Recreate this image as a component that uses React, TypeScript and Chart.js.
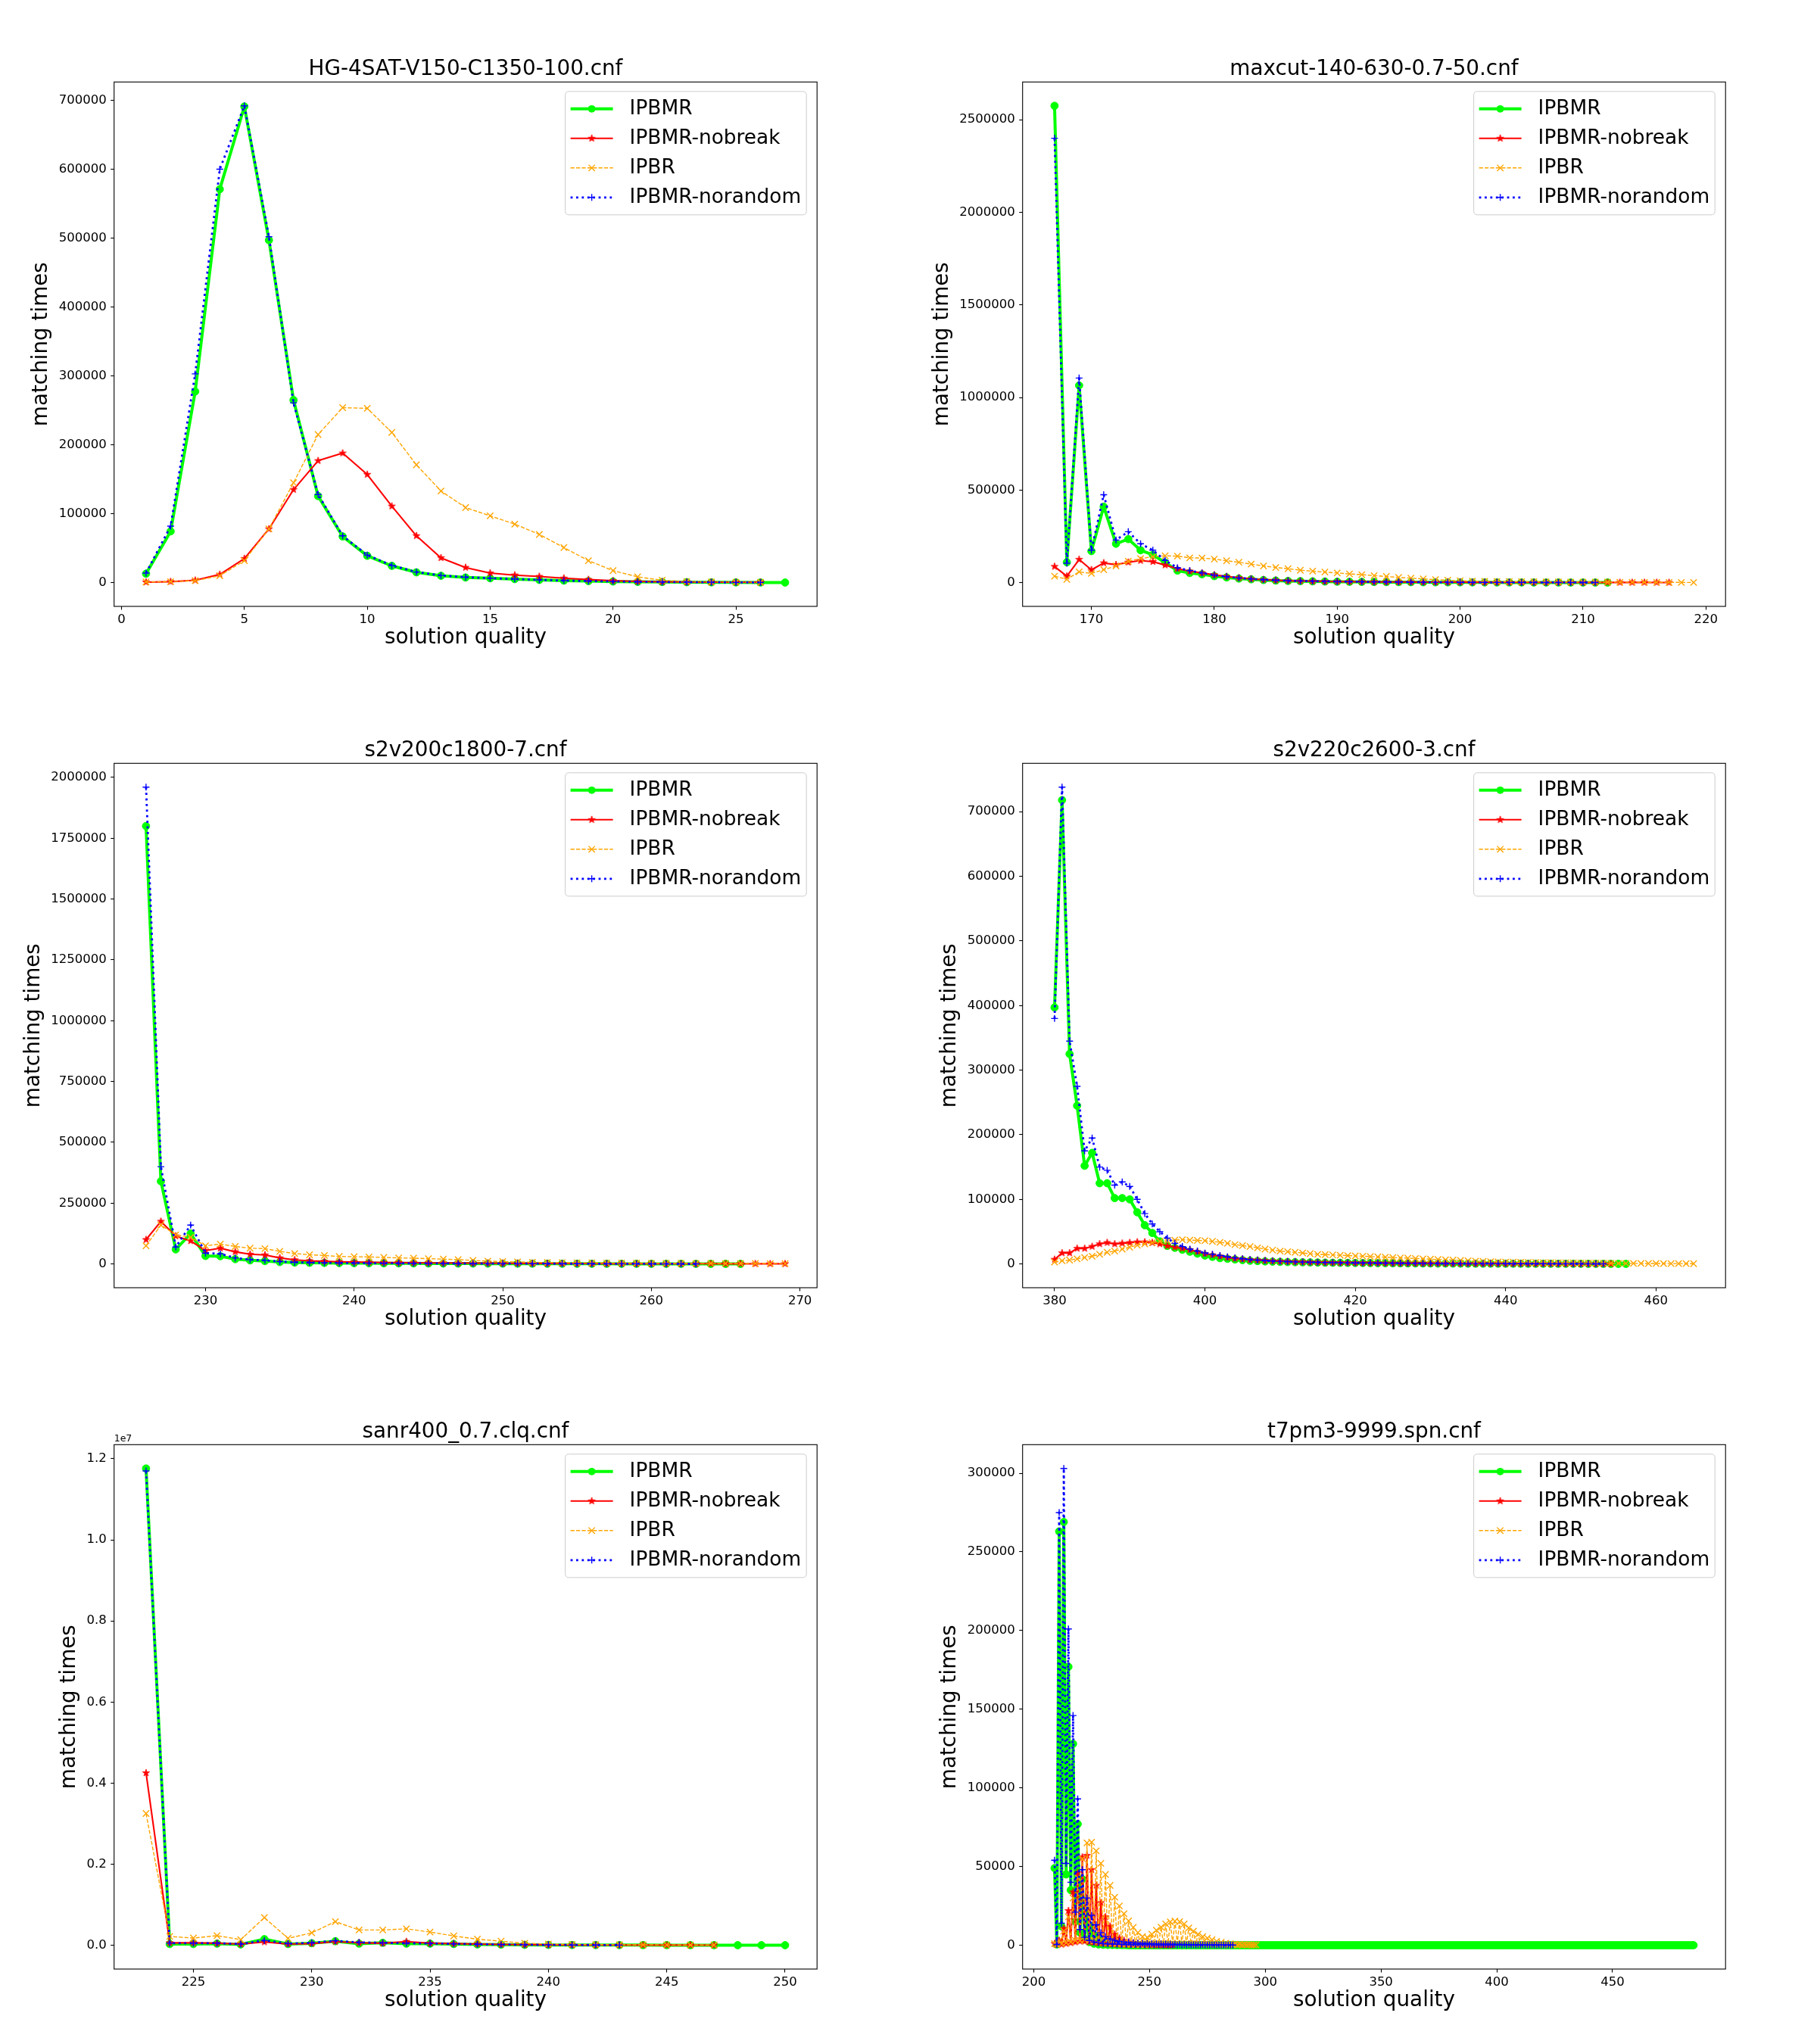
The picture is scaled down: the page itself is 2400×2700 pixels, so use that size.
import React, { useEffect, useRef } from 'react';
import { Chart, registerables } from 'chart.js';

Chart.register(...registerables);

const FONT = "'DejaVu Sans', 'Liberation Sans', sans-serif";
Chart.defaults.font.family = FONT;

const SERIES_LABELS = ['IPBMR', 'IPBMR-nobreak', 'IPBR', 'IPBMR-norandom'];
const X_LABEL = 'solution quality';
const Y_LABEL = 'matching times';

// ---------- HG-4SAT-V150-C1350-100.cnf ----------
const hgTitle = 'HG-4SAT-V150-C1350-100.cnf';
const hgStart = [1, 1, 1, 1];
const hgIPBMR = [13000, 74500, 277500, 571000, 691000, 497000, 265000, 125700, 67000, 39000, 24400, 15000, 10000, 7500, 6400, 5200, 4000, 3000, 2300, 1700, 1200, 1000, 700, 500, 400, 300, 200];
const hgNobreak = [800, 1500, 3500, 12000, 35000, 78000, 135000, 177000, 188000, 157000, 111000, 68000, 36000, 22000, 14000, 11000, 9000, 6500, 4500, 2800, 1800, 1300, 1000, 800, 700, 600];
const hgIPBR = [1000, 1500, 3000, 10000, 32000, 78000, 145000, 215000, 254000, 253000, 218000, 171000, 133000, 109000, 97000, 85000, 70000, 51000, 32000, 17500, 8500, 3500, 1500, 1000, 700, 500];
const hgNorandom = [14000, 82000, 303000, 600000, 692000, 502000, 261000, 128000, 68000, 40000, 25000, 15500, 10500, 8000, 6500, 5300, 4100, 3100, 2400, 1800, 1300, 1000, 800, 600, 400, 300];
const hgXTicks = [0, 5, 10, 15, 20, 25];
const hgYTicks = [0, 100000, 200000, 300000, 400000, 500000, 600000, 700000];

// ---------- maxcut-140-630-0.7-50.cnf ----------
const mcTitle = 'maxcut-140-630-0.7-50.cnf';
const mcStart = [167, 167, 167, 167];
const mcIPBMR = [2575000, 110000, 1065000, 170000, 410000, 210000, 235000, 175000, 150000, 108000,
  65000, 52000, 45000, 35000, 28000, 22000, 18000, 14000, 11000, 9000,
  8000, 7000, 6000, 5000, 4500, 4000, 3500, 3000, 2700, 2400,
  2100, 1900, 1700, 1500, 1300, 1200, 1000, 900, 800, 700,
  650, 600, 550, 500, 450, 400];
const mcNobreak = [87000, 35000, 125000, 69000, 106000, 97000, 110000, 119000, 113000, 95000,
  75000, 62000, 52000, 42000, 33000, 26000, 20000, 16000, 13000, 10000,
  8500, 7500, 6500, 5800, 5200, 4700, 4200, 3800, 3400, 3100,
  2800, 2600, 2400, 2200, 2000, 1900, 1800, 1700, 1600, 1500,
  1400, 1300, 1200, 1100, 1000, 950, 900, 850, 800, 750, 700];
const mcIPBR = [35000, 18000, 58000, 50000, 70000, 90000, 115000, 130000, 140000, 145000,
  143000, 134000, 133000, 127000, 118000, 110000, 100000, 90000, 82000, 75000,
  67000, 62000, 57000, 52000, 47000, 43000, 38000, 33000, 28000, 24000,
  20000, 16000, 13000, 10000, 8000, 7000, 6000, 5500, 5000, 4500,
  4000, 3600, 3300, 3000, 2700, 2400, 2100, 1900, 1700, 1500,
  1300, 1200, 1000];
const mcNorandom = [2400000, 105000, 1105000, 175000, 475000, 230000, 275000, 210000, 175000, 120000,
  80000, 65000, 52000, 40000, 32000, 25000, 20000, 16000, 13000, 10500,
  9000, 8000, 7000, 6000, 5200, 4600, 4000, 3500, 3100, 2700,
  2400, 2100, 1900, 1700, 1500, 1300, 1150, 1000, 900, 800,
  700, 650, 600, 550, 500];
const mcXTicks = [170, 180, 190, 200, 210, 220];
const mcYTicks = [0, 500000, 1000000, 1500000, 2000000, 2500000];

// ---------- s2v200c1800-7.cnf ----------
const s2aTitle = 's2v200c1800-7.cnf';
const s2aStart = [226, 226, 226, 226];
const s2aIPBMR = [1800000, 340000, 60000, 125000, 33000, 32000, 20000, 15000, 12000, 8000,
  6000, 5000, 4500, 4000, 3600, 3300, 3000, 2700, 2500, 2300,
  2100, 1900, 1800, 1700, 1600, 1500, 1400, 1300, 1200, 1100,
  1000, 950, 900, 850, 800, 750, 700, 650, 600, 550, 500];
const s2aNobreak = [100000, 175000, 115000, 95000, 55000, 65000, 50000, 40000, 37000, 25000,
  17000, 13000, 11000, 9000, 8000, 7000, 6000, 5500, 5000, 4600,
  4200, 3900, 3600, 3300, 3000, 2800, 2600, 2400, 2200, 2000,
  1900, 1800, 1700, 1600, 1500, 1400, 1300, 1200, 1100, 1000,
  950, 900, 850, 800];
const s2aIPBR = [75000, 160000, 120000, 110000, 75000, 82000, 72000, 65000, 63000, 52000,
  43000, 38000, 35000, 31000, 30000, 29000, 27000, 25000, 24000, 22000,
  20000, 18000, 15000, 12000, 10000, 8500, 7000, 6000, 5500, 5000,
  4500, 4200, 3900, 3600, 3300, 3000, 2800, 2600, 2400, 2200,
  2100, 2000, 1900, 1800];
const s2aNorandom = [1960000, 400000, 70000, 160000, 45000, 42000, 25000, 18000, 15000, 10000,
  7000, 6000, 5000, 4500, 4000, 3600, 3300, 3000, 2700, 2500,
  2300, 2100, 1900, 1800, 1700, 1600, 1500, 1400, 1300, 1200,
  1100, 1000, 900, 800, 700, 650, 600, 550];
const s2aXTicks = [230, 240, 250, 260, 270];
const s2aYTicks = [0, 250000, 500000, 750000, 1000000, 1250000, 1500000, 1750000, 2000000];

// ---------- s2v220c2600-3.cnf ----------
const s2bTitle = 's2v220c2600-3.cnf';
const s2bStart = [380, 380, 380, 380];
const s2bIPBMR = [397000, 718000, 325000, 245000, 152000, 172000, 125000, 125000, 102000, 102000,
  100000, 80000, 60000, 48000, 35000, 28000, 25000, 22000, 19000, 16000,
  13000, 11000, 9000, 8000, 7000, 6000, 5000, 4500, 4000, 3600,
  3300, 3000, 2800, 2600, 2400, 2200, 2000, 1900, 1800, 1700,
  1600, 1500, 1400, 1300, 1200, 1100, 1000, 950, 900, 850,
  800, 750, 700, 650, 600, 580, 560, 540, 520, 500,
  480, 460, 440, 420, 400, 380, 360, 340, 320, 300,
  280, 260, 240, 220, 200, 180, 160];
const s2bNobreak = [7000, 17000, 17000, 24000, 24000, 27000, 31000, 33000, 31000, 32000,
  33000, 34000, 34000, 33000, 31000, 28000, 26000, 24000, 22000, 19000,
  16000, 14000, 12000, 10000, 8500, 7500, 6500, 6000, 5300, 4700,
  4200, 3800, 3400, 3100, 2800, 2600, 2400, 2200, 2000, 1900,
  1800, 1700, 1600, 1500, 1400, 1300, 1200, 1100, 1000, 950,
  900, 850, 800, 750, 700, 650, 600, 580, 560, 540,
  520, 500, 480, 460, 440, 420, 400, 380, 360, 340,
  320, 300, 280, 260, 240];
const s2bIPBR = [3000, 5000, 6000, 8000, 10000, 12000, 15000, 18000, 20000, 23000,
  26000, 29000, 31000, 33000, 35000, 36000, 37000, 37500, 37000, 36500,
  36000, 35000, 33500, 32000, 30000, 28500, 27000, 25000, 23000, 21500,
  20000, 19000, 18000, 17000, 16000, 15000, 14500, 14000, 13500, 13000,
  12500, 12000, 11500, 11000, 10500, 10000, 9500, 9000, 8500, 8000,
  7500, 7000, 6500, 6000, 5500, 5000, 4500, 4000, 3600, 3300,
  3000, 2800, 2600, 2400, 2200, 2000, 1900, 1800, 1700, 1600,
  1500, 1400, 1300, 1200, 1100, 1000, 950, 900, 850, 800,
  750, 700, 650, 600, 550, 500];
const s2bNorandom = [380000, 738000, 345000, 275000, 175000, 195000, 150000, 145000, 122000, 127000,
  120000, 100000, 78000, 62000, 50000, 40000, 32000, 27000, 23000, 20000,
  17000, 15000, 13000, 11000, 9500, 8000, 7000, 6000, 5200, 4600,
  4100, 3700, 3300, 3000, 2700, 2500, 2300, 2100, 1900, 1800,
  1700, 1600, 1500, 1400, 1300, 1200, 1100, 1000, 950, 900,
  850, 800, 750, 700, 650, 600, 580, 560, 540, 520,
  500, 480, 460, 440, 420, 400, 380, 360, 340, 320,
  300, 280, 260, 240];
const s2bXTicks = [380, 400, 420, 440, 460];
const s2bYTicks = [0, 100000, 200000, 300000, 400000, 500000, 600000, 700000];

// ---------- sanr400_0.7.clq.cnf ----------
const snTitle = 'sanr400_0.7.clq.cnf';
const snStart = [223, 223, 223, 223];
const snIPBMR = [11760000, 30000, 30000, 40000, 20000, 150000, 30000, 50000, 100000, 40000,
  60000, 40000, 40000, 30000, 20000, 15000, 10000, 8000, 6000, 5000,
  4000, 3500, 3000, 2500, 2000, 1500, 1000, 800];
const snNobreak = [4250000, 60000, 60000, 50000, 30000, 80000, 30000, 40000, 90000, 60000,
  50000, 90000, 50000, 40000, 30000, 20000, 15000, 10000, 8000, 6000,
  5000, 4000, 3000, 2500, 2000];
const snIPBR = [3250000, 217000, 178000, 237000, 138000, 682000, 170000, 306000, 583000, 376000,
  376000, 405000, 326000, 230000, 150000, 100000, 50000, 30000, 20000, 15000,
  12000, 10000, 8000, 6000, 5000];
const snNorandom = [11700000, 50000, 50000, 50000, 30000, 120000, 40000, 60000, 110000, 70000,
  60000, 50000, 45000, 35000, 25000, 18000, 12000, 9000, 7000, 5000, 4000];
const snXTicks = [225, 230, 235, 240, 245, 250];
const snYTicks = [0, 2000000, 4000000, 6000000, 8000000, 10000000, 12000000];

// ---------- t7pm3-9999.spn.cnf ----------
const t7Title = 't7pm3-9999.spn.cnf';
const t7Start = [209, 209, 209, 209];
const t7IPBMR = [
  49000, 500, 263000, 12000, 269000, 45000, 177000, 35000, 128000, 15000, // 209
  77000, 8000, 42000, 4000, 22000, 2000, 12000, 1000, 6000, 500, // 219
  3000, 300, 1500, 200, 800, 150, 500, 100, 300, 100, // 229
  200, 100, 0, 0, 0, 0, 0, 0, 0, 0, // 239
  0, 0, 0, 0, 0, 0, 0, 0, 0, 0, // 249
  0, 0, 0, 0, 0, 0, 0, 0, 0, 0, // 259
  0, 0, 0, 0, 0, 0, 0, 0, 0, 0, // 269
  0, 0, 0, 0, 0, 0, 0, 0, 0, 0, // 279
  0, 0, 0, 0, 0, 0, 0, 0, 0, 0, // 289
  0, 0, 0, 0, 0, 0, 0, 0, 0, 0, // 299
  0, 0, 0, 0, 0, 0, 0, 0, 0, 0, // 309
  0, 0, 0, 0, 0, 0, 0, 0, 0, 0, // 319
  0, 0, 0, 0, 0, 0, 0, 0, 0, 0, // 329
  0, 0, 0, 0, 0, 0, 0, 0, 0, 0, // 339
  0, 0, 0, 0, 0, 0, 0, 0, 0, 0, // 349
  0, 0, 0, 0, 0, 0, 0, 0, 0, 0, // 359
  0, 0, 0, 0, 0, 0, 0, 0, 0, 0, // 369
  0, 0, 0, 0, 0, 0, 0, 0, 0, 0, // 379
  0, 0, 0, 0, 0, 0, 0, 0, 0, 0, // 389
  0, 0, 0, 0, 0, 0, 0, 0, 0, 0, // 399
  0, 0, 0, 0, 0, 0, 0, 0, 0, 0, // 409
  0, 0, 0, 0, 0, 0, 0, 0, 0, 0, // 419
  0, 0, 0, 0, 0, 0, 0, 0, 0, 0, // 429
  0, 0, 0, 0, 0, 0, 0, 0, 0, 0, // 439
  0, 0, 0, 0, 0, 0, 0, 0, 0, 0, // 449
  0, 0, 0, 0, 0, 0, 0, 0, 0, 0, // 459
  0, 0, 0, 0, 0, 0, 0, 0, 0, 0, // 469
  0, 0, 0, 0, 0, 0, 0 // 479-485
];
const t7Nobreak = [
  1000, 500, 3000, 500, 10600, 1000, 21900, 1500, 33800, 2000, // 209
  46000, 2500, 56000, 2500, 57000, 2000, 48000, 1800, 38000, 1500, // 219
  27000, 1200, 18000, 1000, 12000, 800, 7000, 600, 4500, 500, // 229
  3000, 400, 2000, 300, 1500, 300, 1000, 200, 800, 200, // 239
  600, 100, 500, 100, 400, 100, 300, 100, 200, 100, // 249
  100, 100 // 259-260
];
const t7IPBR = [
  1000, 300, 3000, 800, 9000, 1500, 18000, 2000, 30000, 3000, // 209
  43000, 3000, 55000, 3500, 65000, 3000, 65500, 3000, 60000, 2500, // 219
  52000, 2000, 45000, 1800, 38000, 1500, 30500, 1200, 25000, 1000, // 229
  20000, 800, 15400, 700, 11400, 600, 8000, 500, 5500, 500, // 239
  5000, 600, 7000, 800, 9500, 900, 11500, 1000, 13500, 1100, // 249
  14800, 1200, 15300, 1200, 15000, 1100, 13500, 1000, 11000, 900, // 259
  9000, 800, 7000, 700, 5500, 600, 4500, 500, 3500, 400, // 269
  2500, 300, 1800, 200, 1200, 200, 900, 200, 700, 200, // 279
  500, 200, 400, 200, 300, 200, 200, 200 // 289-296
];
const t7Norandom = [
  54000, 500, 275000, 14000, 303000, 52000, 201000, 40000, 146000, 21000, // 209
  93000, 10000, 48000, 5000, 30000, 3000, 19000, 2000, 13000, 1500, // 219
  8000, 1000, 5500, 800, 4000, 700, 3000, 600, 2500, 500, // 229
  2000, 500, 1800, 400, 1500, 400, 1300, 300, 1200, 300, // 239
  1100, 300, 1000, 200, 900, 200, 800, 200, 700, 200, // 249
  600, 200, 500, 100, 500, 100, 400, 100, 400, 100, // 259
  300, 100, 300, 100, 200, 100, 200, 100, 200, 100, // 269
  100, 100, 100, 100, 100, 100, 100, 100 // 279-286
];
const t7XTicks = [200, 250, 300, 350, 400, 450];
const t7YTicks = [0, 50000, 100000, 150000, 200000, 250000, 300000];

// ---------- layout / style (not data) ----------
const PLOT_LEFT0 = 150.7;
const COL_STEP = 1200;
const PLOT_W = 928.5;
const PLOT_TOP0 = 108.3;
const ROW_STEP = 900;
const PLOT_H = 692.7;
const Y_AXIS_W = 140;
const X_AXIS_H = 58.1;
const BIG = 27.8;
const TICK = 16.5;
const LEG = 26.4;
const CANVAS_W = 1118;
const CANVAS_H = 810;

let starCache: HTMLCanvasElement | null = null;
function starImage() {
  if (starCache) return starCache;
  const r = 5;
  const s = 14;
  const c = document.createElement('canvas');
  c.width = s; c.height = s;
  const ctx = c.getContext('2d')!;
  ctx.translate(s / 2, s / 2);
  ctx.beginPath();
  for (let i = 0; i < 10; i++) {
    const ang = -Math.PI / 2 + (i * Math.PI) / 5;
    const rr = i % 2 === 0 ? r : r * 0.382;
    ctx.lineTo(rr * Math.cos(ang), rr * Math.sin(ang));
  }
  ctx.closePath();
  ctx.fillStyle = '#ff0000';
  ctx.fill();
  ctx.strokeStyle = '#ff0000';
  ctx.lineWidth = 0.8;
  ctx.stroke();
  starCache = c;
  return c;
}

const STYLES = [
  { color: '#00ff00', width: 4, dash: [] as number[], marker: 'circle', radius: 4.9, pbw: 1 },
  { color: '#ff0000', width: 2.1, dash: [] as number[], marker: 'star', radius: 5, pbw: 1 },
  { color: '#ffa500', width: 1.4, dash: [5.2, 2.2], marker: 'crossRot', radius: 5.9, pbw: 1.4 },
  { color: '#0000ff', width: 2.8, dash: [2.8, 4.6], marker: 'cross', radius: 4.5, pbw: 1.4 },
];

type PanelDef = {
  title: string;
  starts: number[];
  series: number[][];
  xTicks: number[];
  yTicks: number[];
  yDiv: number;
  yDecimals: number;
  offsetText?: string;
  col: number;
  row: number;
};

const PANELS: PanelDef[] = [
  { title: hgTitle, starts: hgStart, series: [hgIPBMR, hgNobreak, hgIPBR, hgNorandom], xTicks: hgXTicks, yTicks: hgYTicks, yDiv: 1, yDecimals: 0, col: 0, row: 0 },
  { title: mcTitle, starts: mcStart, series: [mcIPBMR, mcNobreak, mcIPBR, mcNorandom], xTicks: mcXTicks, yTicks: mcYTicks, yDiv: 1, yDecimals: 0, col: 1, row: 0 },
  { title: s2aTitle, starts: s2aStart, series: [s2aIPBMR, s2aNobreak, s2aIPBR, s2aNorandom], xTicks: s2aXTicks, yTicks: s2aYTicks, yDiv: 1, yDecimals: 0, col: 0, row: 1 },
  { title: s2bTitle, starts: s2bStart, series: [s2bIPBMR, s2bNobreak, s2bIPBR, s2bNorandom], xTicks: s2bXTicks, yTicks: s2bYTicks, yDiv: 1, yDecimals: 0, col: 1, row: 1 },
  { title: snTitle, starts: snStart, series: [snIPBMR, snNobreak, snIPBR, snNorandom], xTicks: snXTicks, yTicks: snYTicks, yDiv: 1e7, yDecimals: 1, offsetText: '1e7', col: 0, row: 2 },
  { title: t7Title, starts: t7Start, series: [t7IPBMR, t7Nobreak, t7IPBR, t7Norandom], xTicks: t7XTicks, yTicks: t7YTicks, yDiv: 1, yDecimals: 0, col: 1, row: 2 },
];

function measure(text: string, size: number) {
  const c = document.createElement('canvas').getContext('2d')!;
  c.font = `${size}px ${FONT}`;
  return c.measureText(text).width;
}

function drawLegendMarker(ctx: CanvasRenderingContext2D, i: number, x: number, y: number) {
  const st = STYLES[i];
  ctx.save();
  ctx.setLineDash([]);
  if (st.marker === 'circle') {
    ctx.beginPath();
    ctx.arc(x, y, st.radius, 0, Math.PI * 2);
    ctx.fillStyle = st.color;
    ctx.fill();
  } else if (st.marker === 'star') {
    const img = starImage();
    ctx.drawImage(img, x - img.width / 2, y - img.height / 2);
  } else if (st.marker === 'crossRot') {
    const d = st.radius * Math.SQRT1_2;
    ctx.strokeStyle = st.color;
    ctx.lineWidth = st.pbw;
    ctx.beginPath();
    ctx.moveTo(x - d, y - d); ctx.lineTo(x + d, y + d);
    ctx.moveTo(x + d, y - d); ctx.lineTo(x - d, y + d);
    ctx.stroke();
  } else {
    const d = st.radius;
    ctx.strokeStyle = st.color;
    ctx.lineWidth = st.pbw;
    ctx.beginPath();
    ctx.moveTo(x - d, y); ctx.lineTo(x + d, y);
    ctx.moveTo(x, y - d); ctx.lineTo(x, y + d);
    ctx.stroke();
  }
  ctx.restore();
}

function Panel({ def }: { def: PanelDef }) {
  const ref = useRef<HTMLCanvasElement | null>(null);
  const canvasLeft = 2 + COL_STEP * def.col;
  const canvasTop = 60 + ROW_STEP * def.row;

  useEffect(() => {
    if (!ref.current) return;
    const plotLeft = PLOT_LEFT0 + COL_STEP * def.col;
    const plotTop = PLOT_TOP0 + ROW_STEP * def.row;
    const titleH = BIG * 1.2;
    const padL = plotLeft - Y_AXIS_W - canvasLeft;
    const padR = canvasLeft + CANVAS_W - (plotLeft + PLOT_W);
    const padT = plotTop - titleH - canvasTop;
    const padB = canvasTop + CANVAS_H - (plotTop + PLOT_H + X_AXIS_H);

    const fmtY = (v: number) => (v / def.yDiv).toFixed(def.yDecimals);
    const tickW = Math.max(...def.yTicks.map((v) => measure(fmtY(v), TICK)));
    const ylabelOffset = tickW + 32.5;
    const yTitlePadTop = Y_AXIS_W - ylabelOffset - (BIG * 1.2) / 2;

    const datasets = def.series.map((vals, i) => {
      const st = STYLES[i];
      return {
        label: SERIES_LABELS[i],
        data: vals.map((y, k) => ({ x: def.starts[i] + k, y })),
        borderColor: st.color,
        backgroundColor: st.color,
        borderWidth: st.width,
        borderDash: st.dash,
        borderJoinStyle: 'round',
        borderCapStyle: 'butt',
        pointStyle: st.marker === 'star' ? starImage() : st.marker,
        pointRadius: st.radius,
        pointBorderWidth: st.pbw,
        pointBackgroundColor: st.color,
        pointBorderColor: st.color,
        pointHoverRadius: st.radius,
        fill: false,
        tension: 0,
        order: 3 - i,
      };
    });

    let xmin = Infinity, xmax = -Infinity, ymin = Infinity, ymax = -Infinity;
    datasets.forEach((d) => d.data.forEach((p) => {
      xmin = Math.min(xmin, p.x); xmax = Math.max(xmax, p.x);
      ymin = Math.min(ymin, p.y); ymax = Math.max(ymax, p.y);
    }));
    const xm = (xmax - xmin) * 0.05;
    const ym = (ymax - ymin) * 0.05;

    const textW = Math.max(...SERIES_LABELS.map((s) => measure(s, LEG)));
    const legendW = 85 + textW + 7;

    const framePlugin = {
      id: 'mplDecor',
      afterDraw(chart: any) {
        const ctx: CanvasRenderingContext2D = chart.ctx;
        const a = chart.chartArea;
        ctx.save();
        ctx.setLineDash([]);
        ctx.strokeStyle = '#000';
        ctx.lineWidth = 1.1;
        ctx.strokeRect(a.left, a.top, a.right - a.left, a.bottom - a.top);

        // legend
        const right = a.right - 14;
        const left = right - legendW;
        const top = a.top + 12.5;
        const h = 163;
        const r = 5;
        ctx.beginPath();
        ctx.moveTo(left + r, top);
        ctx.lineTo(right - r, top);
        ctx.quadraticCurveTo(right, top, right, top + r);
        ctx.lineTo(right, top + h - r);
        ctx.quadraticCurveTo(right, top + h, right - r, top + h);
        ctx.lineTo(left + r, top + h);
        ctx.quadraticCurveTo(left, top + h, left, top + h - r);
        ctx.lineTo(left, top + r);
        ctx.quadraticCurveTo(left, top, left + r, top);
        ctx.closePath();
        ctx.fillStyle = 'rgba(255,255,255,0.8)';
        ctx.fill();
        ctx.strokeStyle = '#cccccc';
        ctx.lineWidth = 1;
        ctx.stroke();

        SERIES_LABELS.forEach((lab, i) => {
          const st = STYLES[i];
          const cy = top + 23 + 39 * i;
          const x0 = left + 7;
          const x1 = left + 63;
          ctx.save();
          ctx.strokeStyle = st.color;
          ctx.lineWidth = st.width;
          ctx.setLineDash(st.dash);
          ctx.lineCap = 'butt';
          ctx.beginPath();
          ctx.moveTo(x0, cy);
          ctx.lineTo(x1, cy);
          ctx.stroke();
          ctx.restore();
          drawLegendMarker(ctx, i, (x0 + x1) / 2, cy);
          ctx.fillStyle = '#000';
          ctx.font = `${LEG}px ${FONT}`;
          ctx.textAlign = 'left';
          ctx.textBaseline = 'middle';
          ctx.fillText(lab, left + 85, cy + 0.5);
        });

        if (def.offsetText) {
          ctx.fillStyle = '#000';
          ctx.font = `12.5px ${FONT}`;
          ctx.textAlign = 'left';
          ctx.textBaseline = 'alphabetic';
          ctx.fillText(def.offsetText, a.left, a.top - 4.5);
        }
        ctx.restore();
      },
    };

    const chart = new Chart(ref.current, {
      type: 'line',
      data: { datasets: datasets as any },
      options: {
        animation: false,
        responsive: false,
        maintainAspectRatio: false,
        devicePixelRatio: 1,
        events: [],
        layout: { padding: { left: padL, right: padR, top: padT, bottom: padB } },
        plugins: {
          legend: { display: false },
          tooltip: { enabled: false },
          title: {
            display: true,
            text: def.title,
            fullSize: false,
            color: '#000',
            font: { family: FONT, size: BIG, weight: 'normal' },
            padding: { top: 0, bottom: 0 },
          },
        },
        scales: {
          x: {
            type: 'linear',
            min: xmin - xm,
            max: xmax + xm,
            afterBuildTicks: (s: any) => { s.ticks = def.xTicks.map((v) => ({ value: v })); },
            afterFit: (s: any) => { s.height = X_AXIS_H; s.paddingLeft = 0; s.paddingRight = 0; },
            ticks: {
              autoSkip: false,
              maxRotation: 0,
              minRotation: 0,
              padding: 3,
              color: '#000',
              font: { family: FONT, size: TICK },
              callback: (v: any) => String(v),
            },
            grid: { display: true, drawOnChartArea: false, drawTicks: true, tickLength: 4.5, tickWidth: 1.1, tickColor: '#000' },
            border: { display: false },
            title: {
              display: true,
              text: X_LABEL,
              color: '#000',
              font: { family: FONT, size: BIG, weight: 'normal' },
              padding: { top: 0, bottom: 0 },
            },
          },
          y: {
            type: 'linear',
            min: ymin - ym,
            max: ymax + ym,
            afterBuildTicks: (s: any) => { s.ticks = def.yTicks.map((v) => ({ value: v })); },
            afterFit: (s: any) => { s.width = Y_AXIS_W; s.paddingTop = 0; s.paddingBottom = 0; },
            ticks: {
              autoSkip: false,
              padding: 5.5,
              color: '#000',
              font: { family: FONT, size: TICK },
              callback: (v: any) => fmtY(Number(v)),
            },
            grid: { display: true, drawOnChartArea: false, drawTicks: true, tickLength: 4.5, tickWidth: 1.1, tickColor: '#000' },
            border: { display: false },
            title: {
              display: true,
              text: Y_LABEL,
              color: '#000',
              font: { family: FONT, size: BIG, weight: 'normal' },
              padding: { top: yTitlePadTop, bottom: 0 },
            },
          },
        },
      } as any,
      plugins: [framePlugin],
    });
    return () => chart.destroy();
  }, [def]);

  return (
    <canvas
      ref={ref}
      width={CANVAS_W}
      height={CANVAS_H}
      style={{ position: 'absolute', left: canvasLeft, top: canvasTop, width: CANVAS_W, height: CANVAS_H }}
    />
  );
}

export default function App() {
  return (
    <div style={{ position: 'absolute', left: 0, top: 0, width: 2400, height: 2700, background: '#ffffff' }}>
      {PANELS.map((p) => (
        <Panel key={p.title} def={p} />
      ))}
    </div>
  );
}
